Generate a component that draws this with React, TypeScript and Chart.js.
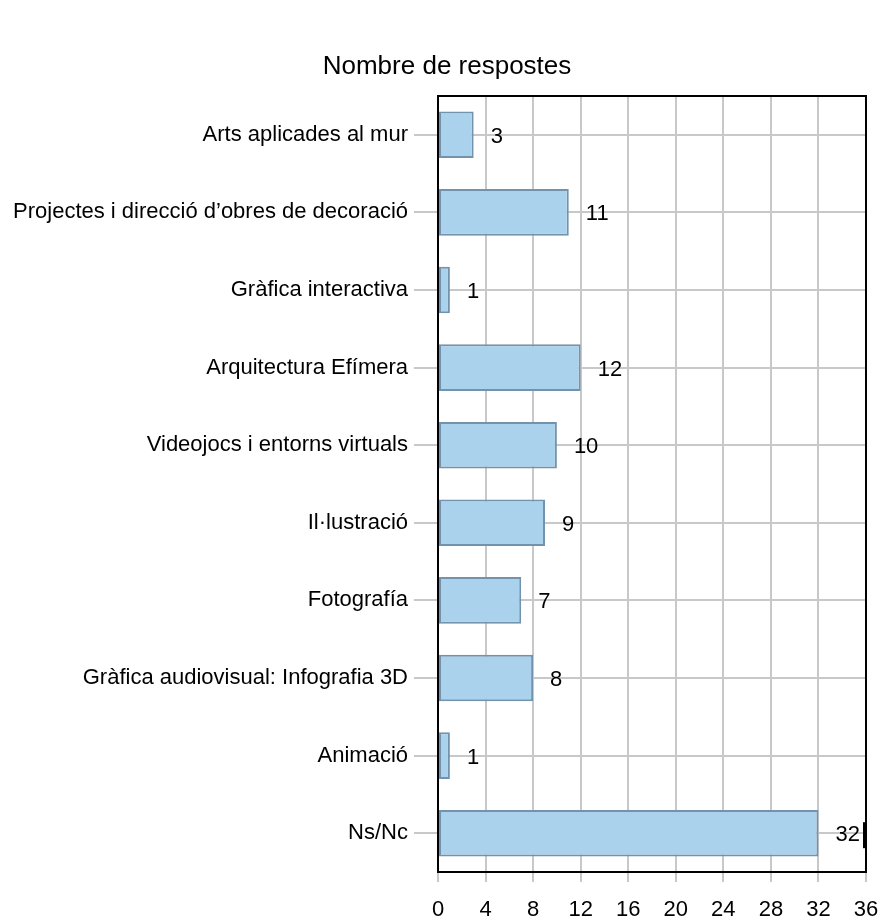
import React, { useEffect, useRef } from "react";
import { Chart, registerables } from "chart.js";

Chart.register(...registerables);

const categories = [
  "Arts aplicades al mur",
  "Projectes i direcció d’obres de decoració",
  "Gràfica interactiva",
  "Arquitectura Efímera",
  "Videojocs i entorns virtuals",
  "Il·lustració",
  "Fotografía",
  "Gràfica audiovisual: Infografia 3D",
  "Animació",
  "Ns/Nc",
];
const responses = [3, 11, 1, 12, 10, 9, 7, 8, 1, 32];
const titleText = "Nombre de respostes";
const xMin = 0;
const xMax = 36;
const xStep = 4;

const FONT = "'Liberation Sans', Arial, Helvetica, sans-serif";
const GRID = "#c8c8c8";

export default function App() {
  const ref = useRef<HTMLCanvasElement | null>(null);

  useEffect(() => {
    if (!ref.current) return;

    const titlePlugin = {
      id: "customTitle",
      afterDraw(chart: any) {
        const ctx = chart.ctx;
        ctx.save();
        ctx.fillStyle = "#000";
        ctx.font = `26px ${FONT}`;
        ctx.textAlign = "center";
        ctx.textBaseline = "middle";
        ctx.fillText(titleText, 447, 67);
        ctx.restore();
      },
    };

    const borderPlugin = {
      id: "boxBorder",
      afterDatasetsDraw(chart: any) {
        const { ctx, chartArea } = chart;
        ctx.save();
        ctx.strokeStyle = "#000";
        ctx.lineWidth = 2;
        ctx.strokeRect(chartArea.left, chartArea.top, chartArea.right - chartArea.left, chartArea.bottom - chartArea.top);
        ctx.restore();
      },
    };

    const valueLabels = {
      id: "valueLabels",
      afterDatasetsDraw(chart: any) {
        const ctx = chart.ctx;
        const area = chart.chartArea;
        const meta = chart.getDatasetMeta(0);
        ctx.save();
        ctx.fillStyle = "#000";
        ctx.font = `22px ${FONT}`;
        ctx.textAlign = "left";
        ctx.textBaseline = "middle";
        meta.data.forEach((bar: any, i: number) => {
          const tx = bar.x + 17;
          ctx.fillText(String(responses[i]), tx, bar.y + 2);
          const w = ctx.measureText(String(responses[i])).width;
          if (tx + w + 12 > area.right) {
            ctx.fillRect(area.right - 3, bar.y - 11, 2, 26);
          }
        });
        ctx.restore();
      },
    };

    const chart = new Chart(ref.current, {
      type: "bar",
      data: {
        labels: categories,
        datasets: [
          {
            data: responses,
            backgroundColor: "#abd2ec",
            borderColor: "#7393ad",
            borderWidth: 2,
            borderSkipped: false,
            barPercentage: 0.6,
            categoryPercentage: 1,
          },
        ],
      },
      options: {
        indexAxis: "y",
        animation: false,
        responsive: false,
        maintainAspectRatio: false,
        layout: { padding: { top: 96, right: 15, left: 0, bottom: 0 } },
        plugins: {
          legend: { display: false },
          tooltip: { enabled: false },
          title: { display: false },
        },
        scales: {
          x: {
            type: "linear",
            min: xMin,
            max: xMax,
            afterFit(scale: any) {
              scale.height = 48;
              scale.paddingLeft = 0;
              scale.paddingRight = 0;
            },
            ticks: {
              stepSize: xStep,
              color: "#000",
              font: { family: FONT, size: 22 },
              padding: 15,
            },
            grid: {
              color: GRID,
              lineWidth: 2,
              tickLength: 10,
              drawOnChartArea: true,
            },
            border: { display: true, color: "#000", width: 2 },
          },
          y: {
            type: "category",
            afterFit(scale: any) {
              scale.width = 438;
              scale.paddingTop = 0;
              scale.paddingBottom = 0;
            },
            ticks: {
              color: "#000",
              font: { family: FONT, size: 22 },
              padding: 6,
            },
            grid: {
              color: GRID,
              lineWidth: 2,
              tickLength: 24,
              offset: false,
              drawOnChartArea: true,
            },
            border: { display: true, color: "#000", width: 2 },
          },
        },
      },
      plugins: [titlePlugin, borderPlugin, valueLabels],
    });

    return () => chart.destroy();
  }, []);

  return (
    <div style={{ position: "absolute", left: 0, top: 0, width: 881, height: 920, background: "#fff" }}>
      <canvas ref={ref} width={881} height={920} style={{ width: 881, height: 920, display: "block" }} />
    </div>
  );
}
